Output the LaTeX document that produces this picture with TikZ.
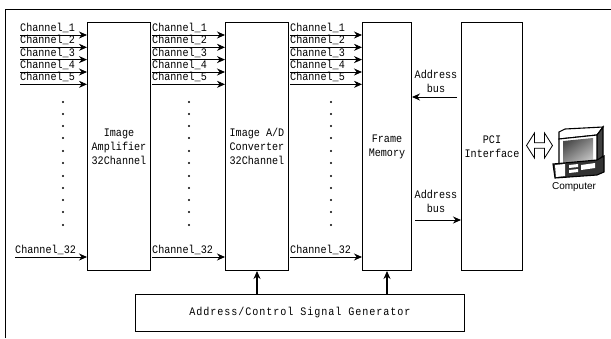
\documentclass[tikz,border=0pt]{standalone}
\usepackage{fontspec}
\setmainfont{Liberation Sans}
\setmonofont[FakeStretch=.88]{Liberation Mono}
\usetikzlibrary{arrows.meta, shapes, shapes.arrows, positioning, calc}
\tikzset{
         mybox/.style={draw, line width=1pt, minimum height=248pt, anchor=north west, inner sep=0pt, align=center, font=\ttfamily\fontsize{11.5}{14}\selectfont},
         mygen/.style={draw, line width=1pt, minimum height=37pt, minimum width=329pt, anchor=north west, font=\ttfamily\fontsize{11.5}{12}\selectfont\addfontfeature{LetterSpace=8}},
         mychan/.style={anchor=base west, inner sep=0pt, font=\ttfamily\fontsize{11.5}{12}\selectfont},
         mybus/.style={align=center, inner sep=0pt, font=\ttfamily\fontsize{11.5}{14}\selectfont},
         mydot/.style={circle, fill, inner sep=0pt, minimum size=2.4pt},
         myline/.style={-{Stealth[length=8pt,width=7pt]}, line width=.9pt}
      }

\begin{document}
\begin{tikzpicture}[x=1pt,y=-1pt]
  \useasboundingbox (0,0) rectangle (611,338);
  \draw[line width=1pt] (5,338) -- (5,9) -- (611,9);

  % the blocks
  \node[mybox, minimum width=63pt] (amp) at (87,22) {Image\\Amplifier\\32Channel};
  \node[mybox, minimum width=63pt] (conv) at (225,22) {Image A/D\\Converter\\32Channel};
  \node[mybox, minimum width=49pt] (mem) at (362,22) {Frame\\Memory};
  \node[mybox, minimum width=61pt] (pci) at (461,22) {PCI\\Interface};
  \node[mygen] (gen) at (135,294) {Address/Control Signal Generator};

  % channels 1 to 5 and 32 into each block
  \foreach \name/\startx/\lastx in {amp/20/15, conv/152/152, mem/290/290}{
    \foreach \num/\ypos in {1/35, 2/47.3, 3/59.6, 4/72, 5/84.3}{
      \coordinate (\name from\num) at (\startx,\ypos);
      \node[mychan] (\name label\num) at (\startx,\ypos-3.5) {Channel\_\num};
      \draw[myline] (\name from\num) -- (\name from\num -| \name.west);
    }
    \coordinate (\name from32) at (\lastx,257);
    \node[mychan] (\name label32) at (\lastx,253) {Channel\_32};
    \draw[myline] (\name from32) -- (\name from32 -| \name.west);
  }

  % dots
  \foreach \dotx in {63,189,331}{
    \foreach \doty in {102,114,126,138,151,163,176,188,200,212,225}{
      \node[mydot] (dot\dotx-\doty) at (\dotx,\doty) {};
    }
  }

  % address bus
  \coordinate (busa) at (457,97);
  \coordinate (busb) at (415,220);
  \draw[myline] (busa) -- (busa -| mem.east);
  \draw[myline] (busb) -- (busb -| pci.west);
  \node[mybus] (addra) at (436,81) {Address\\bus};
  \node[mybus] (addrb) at (436,201) {Address\\bus};

  % generator
  \draw[myline, line width=1.2pt] (gen.north -| conv.south) -- (conv.south);
  \draw[myline, line width=1.2pt] (gen.north -| mem.south) -- (mem.south);

  % computer
  \node[draw, double arrow, line width=.8pt, minimum width=25pt, double arrow head extend=5pt, double arrow tip angle=115, minimum height=26pt, inner sep=1pt] (link) at (539.5,145.5) {};
  \filldraw[fill=white, line width=1.1pt] (559,132) -- (565,129) -- (603,127) -- (597,135) -- (559,139) -- cycle;
  \filldraw[fill=black!75, line width=1.1pt] (597,135) -- (603,127) -- (603,156) -- (597,162) -- cycle;
  \filldraw[fill=white, line width=1.1pt] (559,139) -- (597,135) -- (597,162) -- (559,166) -- cycle;
  \shade[left color=black!70, right color=black!25, shading angle=35] (563,141) -- (593,138) -- (593,160) -- (563,163) -- cycle;
  \filldraw[fill=black!80, line width=1.1pt] (553,164) -- (597,160) -- (604,156) -- (604,172) -- (597,175) -- (555,178) -- cycle;
  \fill[white] (555,165) -- (565,164) -- (565,176) -- (556,177) -- cycle;
  \fill[white] (569,165) -- (578,164) -- (578,167) -- (569,168) -- cycle (569,170) -- (578,169) -- (578,172) -- (569,173) -- cycle;
  \fill[white] (581,165) -- (595,163) -- (595,168) -- (581,170) -- cycle;
  \node[inner sep=0pt, font=\fontsize{10}{12}\selectfont] (comp) at (574,187) {Computer};
\end{tikzpicture}
\end{document}
